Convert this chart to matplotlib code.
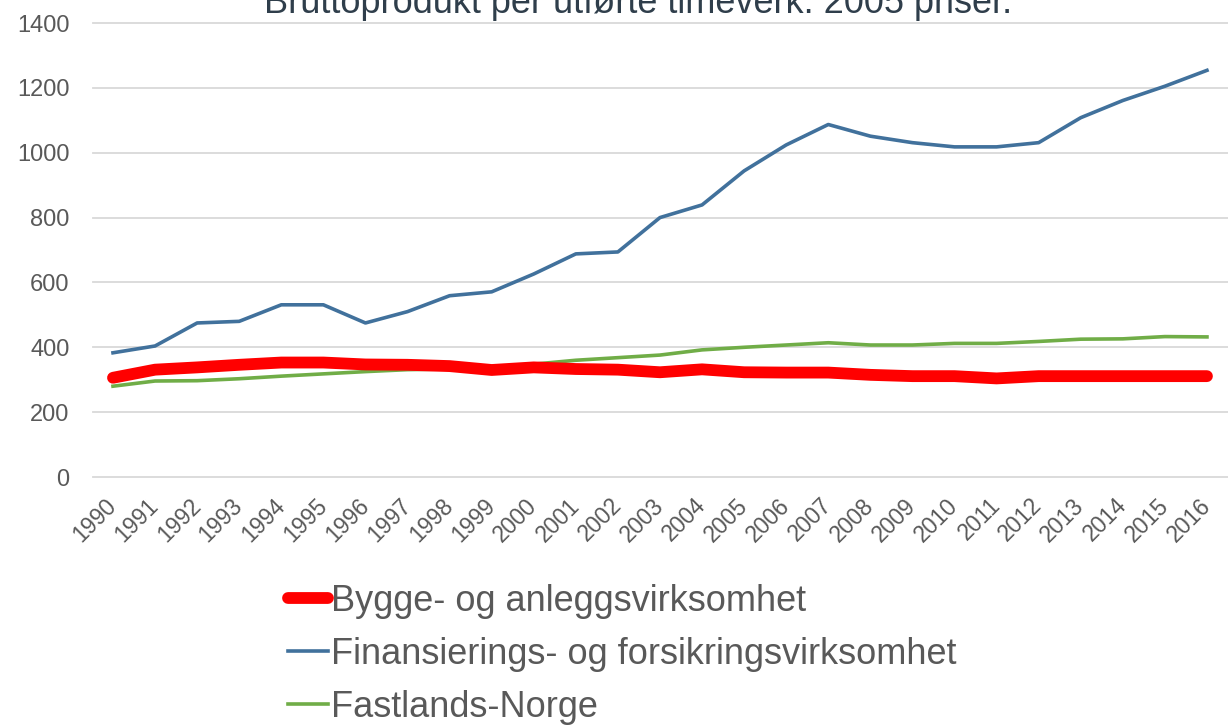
import matplotlib
matplotlib.use("Agg")
import matplotlib.pyplot as plt

plt.rcParams['font.family'] = ['Liberation Sans', 'DejaVu Sans']

years = [str(y) for y in range(1990, 2017)]
bygge = [306, 331, 338, 346, 353, 353, 347, 346, 342, 330, 338, 333, 331,
         323, 332, 323, 322, 322, 315, 311, 311, 304, 311, 311, 311, 311, 311]
finans = [383, 404, 475, 480, 531, 531, 475, 510, 559, 571, 626, 688, 694,
          800, 839, 944, 1024, 1087, 1051, 1031, 1018, 1018, 1031, 1108, 1161, 1205, 1254]
fastland = [280, 296, 297, 303, 311, 318, 325, 331, 333, 338, 348, 360, 368,
            376, 392, 400, 407, 414, 407, 407, 412, 412, 418, 425, 426, 433, 432]
series_names = ["Bygge- og anleggsvirksomhet",
                "Finansierings- og forsikringsvirksomhet",
                "Fastlands-Norge"]
title = "Bruttoprodukt per utførte timeverk. 2005 priser."
yticks = [0, 200, 400, 600, 800, 1000, 1200, 1400]

W, H = 1228, 725
fig = plt.figure(figsize=(W / 100, H / 100), dpi=100)
ax = fig.add_axes([93 / W, 1 - 477 / H, (1228 - 93) / W, (477 - 23) / H])

x = list(range(len(years)))
l1, = ax.plot(x, bygge, color='#FF0000', lw=8.5, solid_capstyle='round', zorder=3)
l2, = ax.plot(x, finans, color='#41719C', lw=2.6, zorder=4)
l3, = ax.plot(x, fastland, color='#70AD47', lw=2.6, zorder=2)

ax.set_xlim(-0.475, 26.5)
ax.set_ylim(0, 1400)
ax.set_yticks(yticks)
ax.set_yticklabels([str(v) for v in yticks])
ax.set_xticks(x)
ax.set_xticklabels(years, rotation=45, ha='right', va='center',
                   rotation_mode='anchor')
ax.tick_params(axis='x', length=0, pad=18, labelsize=16.5, colors='#595959')
ax.tick_params(axis='y', length=0, pad=17, labelsize=17, colors='#595959')
ax.grid(axis='y', color='#D9D9D9', lw=1.3, clip_on=False)
ax.set_axisbelow(True)
for s in ax.spines.values():
    s.set_visible(False)

fig.text(638 / W, 1 - 13 / H, title, ha='center', va='baseline', fontsize=26,
         color='#2F3E4B')

leg = fig.legend([l1, l2, l3], series_names, loc='upper left',
                 bbox_to_anchor=(288 / W, 1 - 584 / H), frameon=False,
                 fontsize=26, handlelength=1.1, handletextpad=0.08,
                 labelspacing=0.5, borderaxespad=0, borderpad=0)
for t in leg.get_texts():
    t.set_color('#595959')

fig.savefig('out.png', dpi=100)
